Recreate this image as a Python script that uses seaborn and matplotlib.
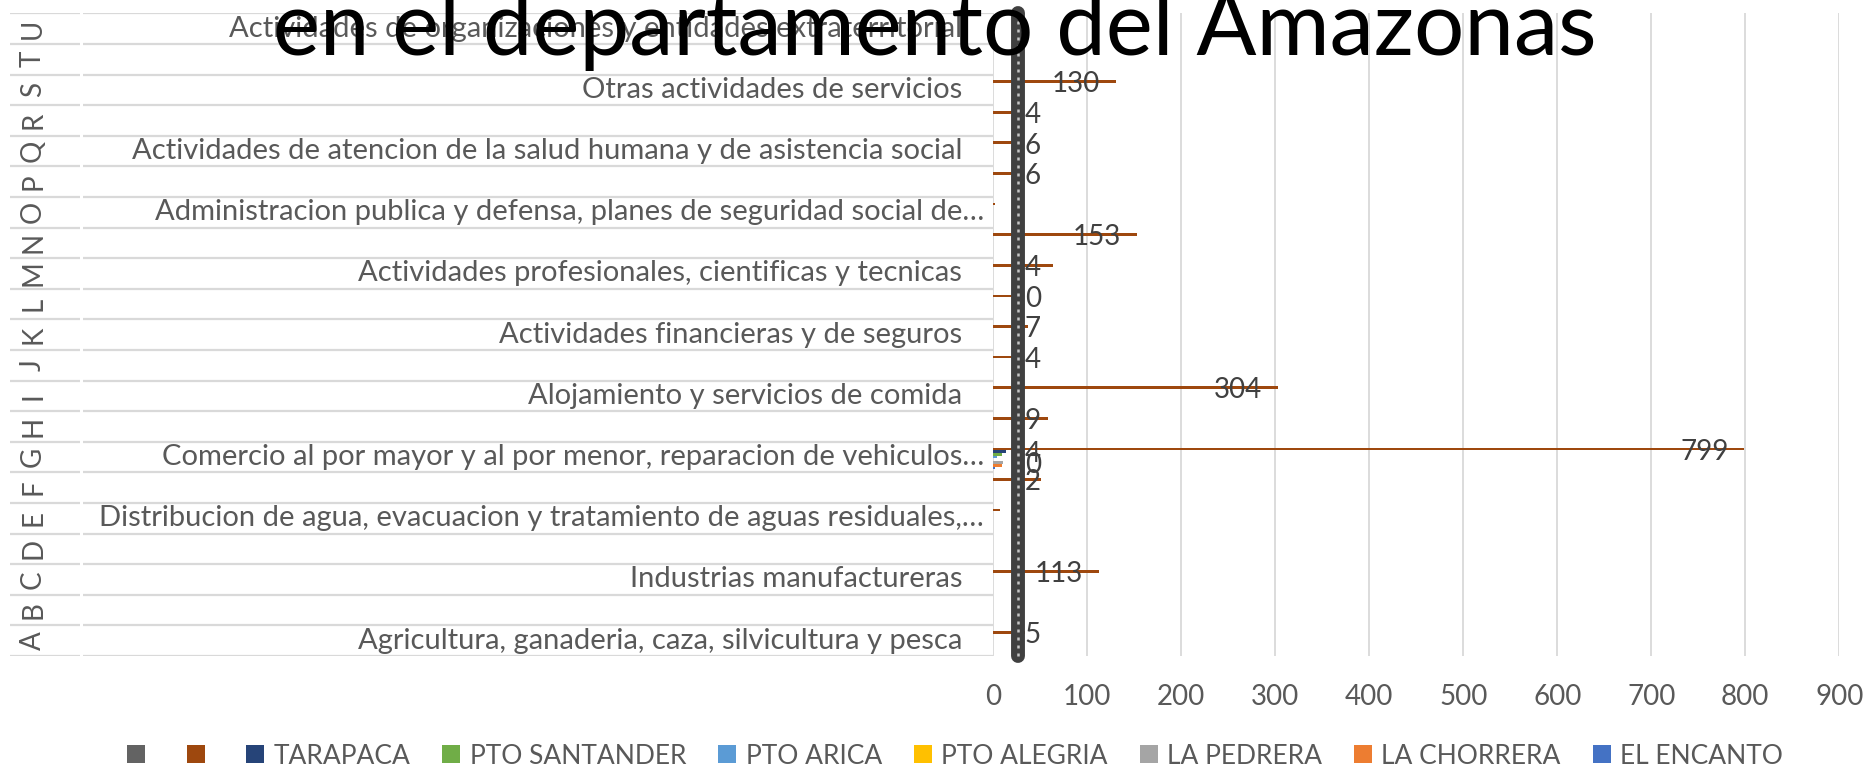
"""Comercio por actividad economica en el departamento del Amazonas (barras horizontales)."""

from __future__ import annotations

import matplotlib
import pandas as pd
import seaborn as sns

matplotlib.use("Agg")
import matplotlib.pyplot as plt
from matplotlib.lines import Line2D

W, H = 1873, 772
GRIS_TEXTO = "#595959"
GRIS_LINEA = "#D9D9D9"

# categorias (de arriba hacia abajo)
letras = ["U", "T", "S", "R", "Q", "P", "O", "N", "M", "L", "K",
          "J", "I", "H", "G", "F", "E", "D", "C", "B", "A"]

descripciones = {
    "U": "Actividades de organizaciones y entidades extraterritorial",
    "S": "Otras actividades de servicios",
    "Q": "Actividades de atencion de la salud humana y de asistencia social",
    "O": "Administracion publica y defensa, planes de seguridad social de…",
    "M": "Actividades profesionales, cientificas y tecnicas",
    "K": "Actividades financieras y de seguros",
    "I": "Alojamiento y servicios de comida",
    "G": "Comercio al por mayor y al por menor, reparacion de vehiculos…",
    "E": "Distribucion de agua, evacuacion y tratamiento de aguas residuales,…",
    "C": "Industrias manufactureras",
    "A": "Agricultura, ganaderia, caza, silvicultura y pesca",
}

serie_total = [0, 0, 130, 22, 22, 22, 2, 153, 64, 22, 37,
               22, 303, 58, 799, 51, 7, 0, 112, 0, 34]
etiquetas_total = ["", "", "130", "4", "6", "6", "", "153", "4", "0", "7",
                   "4", "304", "9", "799", "2", "", "", "113", "", "5"]

# serie gris oscura (dibujada como linea vertical gruesa)
serie_gris = [26, 26, 26, 26, 26, 26, 26, 26, 26, 26, 26,
              26, 26, 26, 26, 26, 26, 26, 26, 26, 26]

# municipios: solo tienen valor en la fila G
municipios = ["TARAPACA", "PTO SANTANDER", "PTO ARICA", "PTO ALEGRIA",
              "LA PEDRERA", "LA CHORRERA", "EL ENCANTO"]
valores_g = [14, 9, 3.5, 0, 10, 9, 1.5]
etiquetas_g = ["4", "", "", "", "0", "", ""]

series = ["gris", "total"] + municipios
colores = ["#636363", "#9E480E", "#264478", "#70AD47", "#5B9BD5",
           "#FFC000", "#A5A5A5", "#ED7D31", "#4472C4"]
nombres_leyenda = ["", ""] + municipios

TICKS = [0, 100, 200, 300, 400, 500, 600, 700, 800, 900]


def _frame() -> pd.DataFrame:
    rows = []
    for i, letra in enumerate(letras):
        rows.append({"letra": letra, "serie": "gris", "valor": 0})
        rows.append({"letra": letra, "serie": "total", "valor": serie_total[i]})
        for m, v in zip(municipios, valores_g):
            rows.append({"letra": letra, "serie": m, "valor": v if letra == "G" else 0})
    return pd.DataFrame(rows)


def main() -> None:
    sns.set_theme(style="white")
    plt.rcParams["font.family"] = ["Lato", "DejaVu Sans"]

    fig = plt.figure(figsize=(W / 100, H / 100), dpi=100)
    top, bottom = 13.3, 656.0
    x0, x900 = 993.3, 1839.3
    ax = fig.add_axes([x0 / W, 1 - bottom / H, (x900 - x0) / W, (bottom - top) / H])

    frame = _frame()
    sns.barplot(
        data=frame, x="valor", y="letra", hue="serie", order=letras,
        hue_order=series, palette=colores, width=0.8, saturation=1,
        linewidth=0, legend=False, orient="h", ax=ax, errorbar=None,
    )
    ax.set_xlim(0, 900)
    ax.set_ylim(len(letras) - 0.5, -0.5)
    ax.set_xticks(TICKS)
    ax.set_xticklabels([str(t) for t in TICKS])
    ax.set_yticks([])
    ax.set_xlabel("")
    ax.set_ylabel("")
    for s in ax.spines.values():
        s.set_visible(False)
    ax.grid(axis="x", color=GRIS_LINEA, lw=1.3)
    ax.set_axisbelow(True)
    ax.tick_params(axis="x", length=0, pad=20, labelsize=20, labelcolor=GRIS_TEXTO)

    # linea gris gruesa con textura de marcadores
    ax.axvline(serie_gris[0], color="#404040", lw=10, solid_capstyle="round",
               clip_on=False, zorder=4)
    ax.axvline(serie_gris[0], color="white", lw=1.8, ls=(0, (1.2, 2.0)),
               alpha=0.7, clip_on=False, zorder=5)

    # etiquetas de datos
    def etiqueta(texto, barra, valor):
        if not texto:
            return
        yc = barra.get_y() + barra.get_height() / 2
        ax.annotate(texto, xy=(max(valor - 17, 50.5), yc), xytext=(0, -2),
                    textcoords="offset points", ha="right", va="center",
                    fontsize=20, color="#404040", zorder=6)

    for barra, texto, valor in zip(ax.containers[1], etiquetas_total, serie_total):
        etiqueta(texto, barra, valor)
    fila_g = letras.index("G")
    for k, (texto, valor) in enumerate(zip(etiquetas_g, valores_g)):
        etiqueta(texto, ax.containers[2 + k][fila_g], valor)

    # area de rotulos del eje de categorias
    lab = fig.add_axes([10 / W, 1 - bottom / H, (x0 - 10) / W, (bottom - top) / H])
    lab.set_xlim(10, x0)
    lab.set_ylim(len(letras) - 0.5, -0.5)
    lab.axis("off")
    for i in range(len(letras) + 1):
        lab.hlines(i - 0.5, 10, 80, color=GRIS_LINEA, lw=1.6)
        lab.hlines(i - 0.5, 83, x0, color=GRIS_LINEA, lw=1.6)
    for i, letra in enumerate(letras):
        lab.text(33, i, letra, rotation=90, ha="center", va="center",
                 fontsize=20, color=GRIS_TEXTO)
        texto = descripciones.get(letra)
        if texto:
            xr = 984 if texto.endswith("…") else 962
            lab.text(xr, i, texto, ha="right", va="center", fontsize=21,
                     color=GRIS_TEXTO)

    fig.text(935 / W, 1 - 55 / H, "en el departamento del Amazonas",
             ha="center", va="baseline", fontsize=64, color="black")

    handles = [Line2D([], [], marker="s", ls="", ms=13, color=c, markeredgewidth=0)
               for c in colores]
    fig.legend(handles, nombres_leyenda, loc="center", bbox_to_anchor=(955 / W, 1 - 756 / H),
               ncol=len(colores), frameon=False, fontsize=19, labelcolor=GRIS_TEXTO,
               handlelength=0.7, handletextpad=0.35, columnspacing=1.2)

    fig.savefig("out.png", dpi=100)
    plt.close(fig)


if __name__ == "__main__":
    main()
